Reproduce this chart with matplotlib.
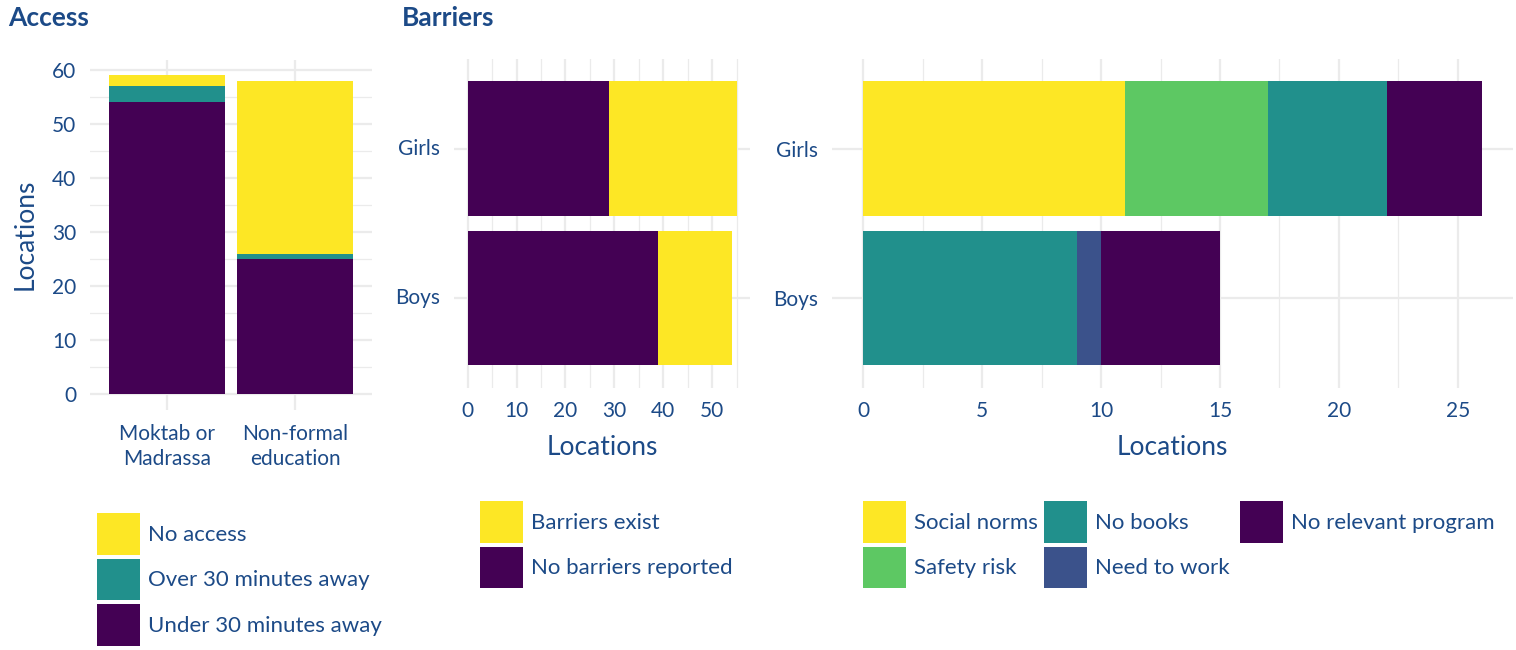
import matplotlib
matplotlib.use("Agg")
import matplotlib.pyplot as plt
from matplotlib.patches import Patch
from matplotlib.ticker import MultipleLocator

# ---------------- data ----------------
access_cats = ["Moktab or\nMadrassa", "Non-formal\neducation"]
access_under30 = [54, 25]
access_over30 = [3, 1]
access_none = [2, 32]

groups = ["Boys", "Girls"]
barr_none_reported = [39, 29]
barr_exist = [15, 26]

barrier_types = ["Social norms", "Safety risk", "No books", "Need to work", "No relevant program"]
boys_barriers = [0, 0, 9, 1, 5]
girls_barriers = [11, 6, 5, 0, 4]

# ---------------- style ----------------
YEL, GRN, TEAL, BLUE, PURP = "#FDE725", "#5DC863", "#21908C", "#3B528B", "#440154"
TXT = "#1c4a87"
GRID = "#ebebeb"
plt.rcParams["font.family"] = ["Lato", "DejaVu Sans"]
plt.rcParams["text.color"] = TXT

W, H = 1516, 650
fig = plt.figure(figsize=(W / 100, H / 100), dpi=100)


def px_axes(l, t, r, b):
    return fig.add_axes([l / W, 1 - b / H, (r - l) / W, (b - t) / H])


def style(ax):
    for s in ax.spines.values():
        s.set_visible(False)
    ax.tick_params(length=0, labelsize=15, colors=TXT, pad=10)
    ax.grid(True, which="major", color=GRID, lw=1.6, zorder=0)
    ax.grid(True, which="minor", color=GRID, lw=0.9, zorder=0)
    ax.tick_params(which="minor", length=0)
    ax.set_axisbelow(True)


# ---------------- panel 1: Access ----------------
ax1 = px_axes(90, 59.5, 372, 410)
style(ax1)
xs = [1, 2]
bw = 0.9
ax1.bar(xs, access_under30, width=bw, color=PURP, zorder=2)
ax1.bar(xs, access_over30, width=bw, bottom=access_under30, color=TEAL, zorder=2)
b3 = [a + b for a, b in zip(access_under30, access_over30)]
ax1.bar(xs, access_none, width=bw, bottom=b3, color=YEL, zorder=2)
ax1.set_xlim(0.4, 2.6)
ax1.set_ylim(-2.95, 61.95)
ax1.set_xticks(xs)
ax1.set_xticklabels(access_cats, linespacing=1.35)
ax1.yaxis.set_major_locator(MultipleLocator(10))
ax1.yaxis.set_minor_locator(MultipleLocator(5))
ax1.set_ylabel("Locations", fontsize=19, color=TXT, labelpad=10)

# ---------------- panel 2: Barriers exist ----------------
ax2 = px_axes(454.3, 59.1, 750, 387.6)
style(ax2)
ys = [1, 2]
ax2.barh(ys, barr_none_reported, height=bw, color=PURP, zorder=2)
ax2.barh(ys, barr_exist, height=bw, left=barr_none_reported, color=YEL, zorder=2)
ax2.set_xlim(-2.75, 57.75)
ax2.set_ylim(0.4, 2.6)
ax2.set_yticks(ys)
ax2.set_yticklabels(groups, va="center")
ax2.xaxis.set_major_locator(MultipleLocator(10))
ax2.xaxis.set_minor_locator(MultipleLocator(5))
ax2.set_xlabel("Locations", fontsize=19, color=TXT, labelpad=10)

# ---------------- panel 3: barrier types ----------------
ax3 = px_axes(832.2, 59.1, 1512.6, 387.6)
style(ax3)
colors3 = [YEL, GRN, TEAL, BLUE, PURP]
vals = [boys_barriers, girls_barriers]
lefts = [0, 0]
for k, c in enumerate(colors3):
    w = [vals[0][k], vals[1][k]]
    ax3.barh(ys, w, height=bw, left=lefts, color=c, zorder=2)
    lefts = [lefts[0] + w[0], lefts[1] + w[1]]
ax3.set_xlim(-1.3, 27.3)
ax3.set_ylim(0.4, 2.6)
ax3.set_yticks(ys)
ax3.set_yticklabels(groups)
ax3.xaxis.set_major_locator(MultipleLocator(5))
ax3.xaxis.set_minor_locator(MultipleLocator(2.5))
ax3.set_xlabel("Locations", fontsize=19, color=TXT, labelpad=10)

# ---------------- titles ----------------
fig.text(8 / W, 1 - 18 / H, "Access", fontsize=19, fontweight="bold", color=TXT, va="center", ha="left")
fig.text(402 / W, 1 - 18 / H, "Barriers", fontsize=19, fontweight="bold", color=TXT, va="center", ha="left")

# ---------------- legends ----------------
leg_kw = dict(frameon=False, fontsize=16, handlelength=1.95, handleheight=2.5,
              handletextpad=0.35, labelspacing=0.18, borderpad=0, borderaxespad=0,
              loc="upper left", labelcolor=TXT)


def legend(x, y, labels, colors):
    handles = [Patch(facecolor=c, edgecolor="none") for c in colors]
    lg = fig.legend(handles, labels, bbox_to_anchor=(x / W, 1 - y / H), **leg_kw)
    return lg


legend(97, 513, ["No access", "Over 30 minutes away", "Under 30 minutes away"], [YEL, TEAL, PURP])
legend(480, 501, ["Barriers exist", "No barriers reported"], [YEL, PURP])
legend(863, 501, barrier_types[0:2], colors3[0:2])
legend(1044, 501, barrier_types[2:4], colors3[2:4])
legend(1240, 501, barrier_types[4:5], colors3[4:5])

fig.savefig("out.png", dpi=100)
